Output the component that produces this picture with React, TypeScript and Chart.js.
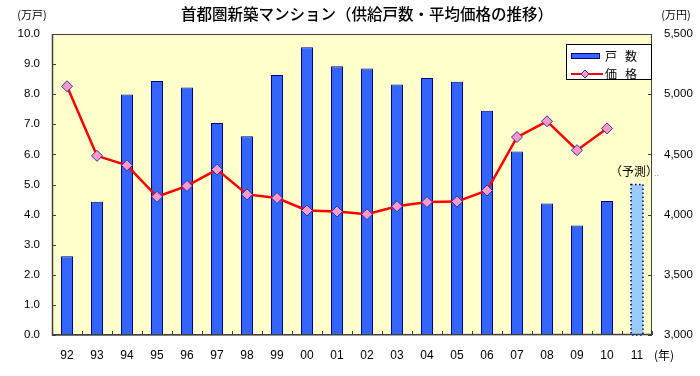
import React, { useEffect, useRef } from 'react';
import { Chart, registerables } from 'chart.js';

Chart.register(...registerables);

const years = ['92', '93', '94', '95', '96', '97', '98', '99', '00', '01', '02', '03', '04', '05', '06', '07', '08', '09', '10', '11'];
// 供給戸数 (万戸)
const units = [2.62, 4.43, 7.99, 8.44, 8.22, 7.04, 6.6, 8.64, 9.56, 8.93, 8.85, 8.32, 8.54, 8.41, 7.45, 6.1, 4.37, 3.64, 4.45, 5.0];
// 平均価格 (万円)
const prices: (number | null)[] = [5066, 4488, 4409, 4148, 4238, 4374, 4168, 4138, 4034, 4026, 4003, 4069, 4104, 4108, 4200, 4644, 4775, 4535, 4716, null];
const forecastIndex = 19;
const leftTicks = { min: 0, max: 10, step: 1 };
const rightTicks = { min: 3000, max: 5500, step: 500 };

const TITLE = '首都圏新築マンション（供給戸数・平均価格の推移）';
const FONT = '"Liberation Sans", Arial, sans-serif';
const JFONT = '"Noto Sans CJK JP", sans-serif';

const BAR_COLOR = '#3366ff';
const BAR_BORDER = '#000080';
const FORECAST_COLOR = '#99ccff';
const LINE_COLOR = '#ff0000';
const POINT_COLOR = '#ff99cc';
const POINT_BORDER = '#333399';

const decorPlugin = {
  id: 'decor',
  beforeDraw(chart: any) {
    const { ctx, chartArea: a, width, height } = chart;
    ctx.save();
    ctx.fillStyle = '#ffffff';
    ctx.fillRect(0, 0, width, height);
    ctx.fillStyle = '#ffffcc';
    ctx.fillRect(a.left, a.top, a.right - a.left, a.bottom - a.top);
    ctx.restore();
  },
  afterDatasetsDraw(chart: any) {
    const { ctx, chartArea: a, scales } = chart;
    ctx.save();
    // forecast bar dotted border
    const bar = chart.getDatasetMeta(0).data[forecastIndex] as any;
    if (bar) {
      const p = bar.getProps(['x', 'y', 'base', 'width'], true);
      ctx.strokeStyle = BAR_BORDER;
      ctx.lineWidth = 1.5;
      ctx.setLineDash([1.5, 2.5]);
      ctx.strokeRect(p.x - p.width / 2, p.y, p.width, p.base - p.y);
      ctx.setLineDash([]);
      ctx.fillStyle = '#000';
      ctx.font = `12px ${JFONT}`;
      ctx.textAlign = 'center';
      ctx.textBaseline = 'middle';
      ctx.fillText('（予測）', p.x - 3, p.y - 13);
      ctx.fillStyle = '#888';
      ctx.font = `9px ${FONT}`;
      ctx.textAlign = 'left';
      ctx.fillText('..', p.x + 17, p.y - 11);
    }

    // frame
    ctx.strokeStyle = '#404040';
    ctx.lineWidth = 1;
    ctx.strokeRect(a.left + 0.5, a.top + 0.5, a.right - a.left - 1, a.bottom - a.top - 1);
    ctx.lineWidth = 1.5;
    ctx.beginPath();
    ctx.moveTo(a.left + 0.5, a.top);
    ctx.lineTo(a.left + 0.5, a.bottom);
    ctx.lineTo(a.right, a.bottom - 0.5);
    ctx.stroke();

    // inner ticks
    ctx.lineWidth = 1;
    ctx.beginPath();
    for (let v = leftTicks.min; v <= leftTicks.max; v += leftTicks.step) {
      const y = Math.round(scales.y.getPixelForValue(v)) + 0.5;
      ctx.moveTo(a.left, y);
      ctx.lineTo(a.left + 4, y);
    }
    for (let v = rightTicks.min; v <= rightTicks.max; v += rightTicks.step) {
      const y = Math.round(scales.y1.getPixelForValue(v)) + 0.5;
      ctx.moveTo(a.right - 4, y);
      ctx.lineTo(a.right, y);
    }
    for (let i = 0; i <= years.length; i++) {
      const x = Math.round(scales.x.getPixelForValue(i - 0.5)) + 0.5;
      ctx.moveTo(x, a.bottom - 4);
      ctx.lineTo(x, a.bottom);
    }
    ctx.stroke();

    // legend
    const lw = 85, lh = 35;
    const lx = a.right - 1 - lw, ly = a.top + 10;
    ctx.fillStyle = '#ffffff';
    ctx.fillRect(lx, ly, lw, lh);
    ctx.strokeStyle = '#000';
    ctx.lineWidth = 1;
    ctx.strokeRect(lx + 0.5, ly + 0.5, lw, lh);
    // row 1
    ctx.fillStyle = BAR_COLOR;
    ctx.fillRect(lx + 5, ly + 9, 29, 6);
    ctx.strokeStyle = BAR_BORDER;
    ctx.strokeRect(lx + 5.5, ly + 9.5, 28, 5);
    // row 2
    const r2 = ly + 30;
    ctx.strokeStyle = LINE_COLOR;
    ctx.lineWidth = 2;
    ctx.beginPath();
    ctx.moveTo(lx + 5, r2);
    ctx.lineTo(lx + 37, r2);
    ctx.stroke();
    ctx.fillStyle = POINT_COLOR;
    ctx.strokeStyle = POINT_BORDER;
    ctx.lineWidth = 1;
    ctx.beginPath();
    const dx = lx + 19;
    ctx.moveTo(dx, r2 - 4);
    ctx.lineTo(dx + 4, r2);
    ctx.lineTo(dx, r2 + 4);
    ctx.lineTo(dx - 4, r2);
    ctx.closePath();
    ctx.fill();
    ctx.stroke();
    ctx.fillStyle = '#000';
    ctx.font = `12px ${JFONT}`;
    ctx.textAlign = 'left';
    ctx.textBaseline = 'middle';
    ctx.fillText('戸', lx + 39, ly + 12);
    ctx.fillText('数', lx + 59, ly + 12);
    ctx.fillText('価', lx + 39, r2);
    ctx.fillText('格', lx + 59, r2);
    ctx.restore();
  },
  afterDraw(chart: any) {
    const { ctx, chartArea: a, width, scales } = chart;
    ctx.save();
    ctx.fillStyle = '#000';
    ctx.textBaseline = 'middle';
    ctx.textAlign = 'center';
    ctx.font = `500 15.5px ${JFONT}`;
    ctx.fillText(TITLE, 367, 14);
    ctx.font = `11px ${JFONT}`;
    ctx.fillText('(万戸)', 32, 15);
    ctx.fillText('(万円)', width - 24, 15);
    ctx.font = `12px ${JFONT}`;
    const last = scales.x.getPixelForValue(years.length - 1);
    ctx.fillText('(年)', last + 27, a.bottom + 20);
    ctx.restore();
  },
};

export default function App() {
  const ref = useRef<HTMLCanvasElement>(null);
  useEffect(() => {
    document.body.style.margin = '0';
    const canvas = ref.current;
    if (!canvas) return;
    const chart = new Chart(canvas, {
      type: 'bar',
      data: {
        labels: years,
        datasets: [
          {
            type: 'bar',
            label: '戸 数',
            data: units,
            yAxisID: 'y',
            order: 1,
            backgroundColor: units.map((_, i) => (i === forecastIndex ? FORECAST_COLOR : BAR_COLOR)),
            borderColor: BAR_BORDER,
            borderWidth: units.map((_, i) => (i === forecastIndex ? 0 : 1)),
            barPercentage: 0.4,
            categoryPercentage: 1,
          },
          {
            type: 'line',
            label: '価 格',
            data: prices,
            yAxisID: 'y1',
            order: 0,
            borderColor: LINE_COLOR,
            borderWidth: 2.5,
            pointStyle: 'rectRot',
            pointRadius: 5.5,
            pointBackgroundColor: POINT_COLOR,
            pointBorderColor: POINT_BORDER,
            pointBorderWidth: 1,
            tension: 0,
            spanGaps: false,
          },
        ],
      } as any,
      options: {
        responsive: false,
        animation: false,
        layout: { padding: { top: 34, left: 0, right: 0, bottom: 0 } },
        plugins: { legend: { display: false }, tooltip: { enabled: false }, title: { display: false } },
        scales: {
          x: {
            grid: { display: false, drawTicks: false },
            border: { display: false },
            ticks: { font: { family: FONT, size: 12 }, color: '#000', padding: 13, maxRotation: 0, autoSkip: false },
            afterFit(s: any) { s.height = 41; },
          },
          y: {
            position: 'left',
            min: leftTicks.min,
            max: leftTicks.max,
            grid: { display: false, drawTicks: false },
            border: { display: false },
            ticks: {
              stepSize: leftTicks.step,
              padding: 12,
              color: '#000',
              font: { family: FONT, size: 11.5 },
              callback: (v: any) => Number(v).toFixed(1),
            },
            afterFit(s: any) { s.width = 52; },
          },
          y1: {
            position: 'right',
            min: rightTicks.min,
            max: rightTicks.max,
            grid: { display: false, drawTicks: false },
            border: { display: false },
            ticks: {
              stepSize: rightTicks.step,
              padding: 12,
              color: '#000',
              font: { family: FONT, size: 11.5 },
              callback: (v: any) => Number(v).toLocaleString('en-US'),
            },
            afterFit(s: any) { s.width = 48; },
          },
        },
      } as any,
      plugins: [decorPlugin],
    });
    return () => chart.destroy();
  }, []);
  return (
    <div style={{ width: 700, height: 376 }}>
      <canvas ref={ref} width={700} height={376} style={{ display: 'block' }} />
    </div>
  );
}
